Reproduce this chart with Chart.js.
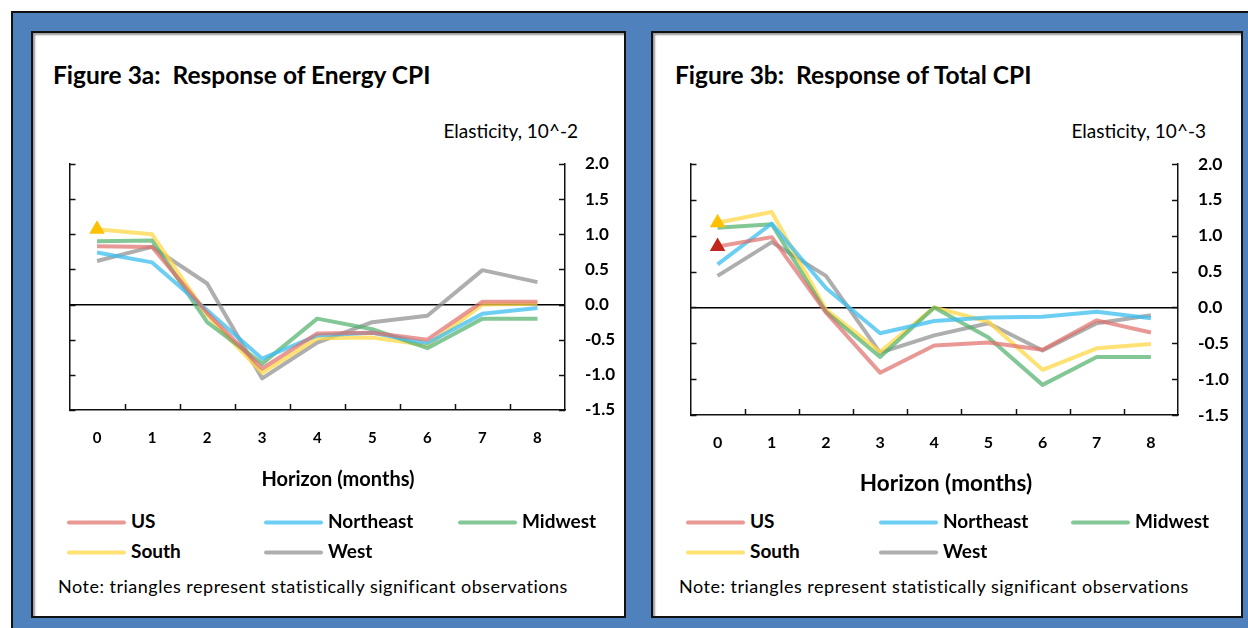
<!DOCTYPE html>
<html>
<head>
<meta charset="utf-8">
<script src="https://cdn.jsdelivr.net/npm/chart.js@4"></script>
<style>
  body { margin: 0; width: 1248px; height: 628px; overflow: hidden; background: #fff; position: relative; font-family: Lato, "Open Sans", sans-serif; color: #000; }
  #frame { position: absolute; left: 11px; top: 11px; width: 1250px; height: 630px; background: #4f81bd; border-left: 2px solid #111; border-top: 2px solid #111; }
  .panel { position: absolute; top: 31px; height: 587px; background: #fff; border: 2px solid #111; box-sizing: border-box; box-shadow: inset 2px 2px 2px #9a9a9a; }
  .abs { position: absolute; white-space: pre; line-height: 1; transform: translateY(-50%); }
  .title { font-weight: 700; font-size: 24.5px; }
  .unit { font-size: 19px; }
  .xtitle { font-weight: 700; transform: translate(-50%, -50%); }
  .item { font-weight: 700; font-size: 19px; }
  .swatch { display: inline-block; width: 59px; height: 4px; vertical-align: middle; margin-right: 5px; border-radius: 2px; }
  .note { font-size: 18px; letter-spacing: 0.5px; }
  canvas { position: absolute; }
</style>
</head>
<body>
<div id="frame"></div>
<div class="panel" style="left:31px; width:595px;"></div>
<div class="panel" style="left:651px; width:592px;"></div>

<div class="abs title" style="left:53px; top:75px;">Figure 3a:  Response of Energy CPI</div>
<div class="abs unit" style="right:670px; top:130px;">Elasticity, 10^-2</div>
<canvas id="energyChart" width="580" height="320" style="left:40px; top:150px;"></canvas>
<div class="abs xtitle" style="left:338px; top:478px; font-size:20px;">Horizon (months)</div>
<div id="energyLegend"></div>
<div class="abs note" style="left:58px; top:586px;">Note: triangles represent statistically significant observations</div>

<div class="abs title" style="left:675px; top:75px;">Figure 3b:  Response of Total CPI</div>
<div class="abs unit" style="right:42px; top:130px;">Elasticity, 10^-3</div>
<canvas id="totalChart" width="580" height="320" style="left:660px; top:150px;"></canvas>
<div class="abs xtitle" style="left:946px; top:483px; font-size:22.5px;">Horizon (months)</div>
<div id="totalLegend"></div>
<div class="abs note" style="left:679px; top:586px;">Note: triangles represent statistically significant observations</div>

<script>
const horizon = ["0", "1", "2", "3", "4", "5", "6", "7", "8"];
const regions = ["US", "Northeast", "Midwest", "South", "West"];
const lineColors = ["rgba(222,110,104,0.7)", "rgba(60,190,240,0.75)", "rgba(80,175,105,0.7)", "rgba(255,215,70,0.75)", "rgba(140,140,140,0.7)"];
const yMin = -1.5, yMax = 2.0, yStep = 0.5;

// Figure 3a: energy CPI, elasticity 10^-2
const energyUS        = [0.83, 0.82, -0.12, -0.91, -0.41, -0.40, -0.50,  0.04,  0.04];
const energyNortheast = [0.74, 0.60, -0.08, -0.77, -0.44, -0.40, -0.55, -0.13, -0.05];
const energyMidwest   = [0.90, 0.91, -0.25, -0.84, -0.20, -0.35, -0.62, -0.20, -0.20];
const energySouth     = [1.07, 1.00, -0.15, -0.97, -0.48, -0.47, -0.58,  0.00,  0.01];
const energyWest      = [0.62, 0.82,  0.30, -1.05, -0.54, -0.25, -0.16,  0.49,  0.32];
const energySig = { South: [0] };

// Figure 3b: total CPI, elasticity 10^-3
const totalUS        = [0.85, 0.98, -0.07, -0.91, -0.53, -0.49, -0.59, -0.18, -0.35];
const totalNortheast = [0.60, 1.17,  0.27, -0.36, -0.19, -0.14, -0.13, -0.06, -0.15];
const totalMidwest   = [1.11, 1.16, -0.06, -0.69,  0.00, -0.42, -1.08, -0.69, -0.69];
const totalSouth     = [1.18, 1.33, -0.03, -0.62,  0.00, -0.20, -0.87, -0.57, -0.51];
const totalWest      = [0.44, 0.91,  0.44, -0.63, -0.39, -0.22, -0.60, -0.22, -0.11];
const totalSig = { US: [0], South: [0] };

const sigColors = { US: "#c0261c", South: "#ffc000" };

Chart.defaults.font.family = "Lato, 'Open Sans', sans-serif";
Chart.defaults.color = "#000";

// small tick marks pointing into the plot, like the original
const innerTicks = {
    id: "innerTicks",
    afterDraw(chart) {
        const { ctx, chartArea: a, scales: { x, y } } = chart;
        ctx.save();
        ctx.strokeStyle = "#111";
        ctx.lineWidth = 1.5;
        ctx.beginPath();
        y.ticks.forEach(t => {
            const py = Math.round(y.getPixelForValue(t.value)) + 0.5;
            ctx.moveTo(a.left, py); ctx.lineTo(a.left + 6, py);
            ctx.moveTo(a.right, py); ctx.lineTo(a.right - 6, py);
        });
        for (let i = 1; i < x.ticks.length; i++) {
            const px = Math.round((x.getPixelForValue(i - 1) + x.getPixelForValue(i)) / 2) + 0.5;
            ctx.moveTo(px, a.bottom); ctx.lineTo(px, a.bottom - 6);
        }
        ctx.stroke();
        ctx.restore();
    }
};

function makeDatasets(series, sig) {
    const lines = regions.map((name, i) => ({
        label: name,
        data: series[i],
        borderColor: lineColors[i],
        borderWidth: 4,
        borderJoinStyle: "round",
        pointRadius: 0,
        tension: 0,
        fill: false
    }));
    const marks = Object.keys(sig).map(name => {
        const vals = series[regions.indexOf(name)];
        return {
            label: name + " significant",
            data: vals.map((v, i) => sig[name].includes(i) ? v : null),
            showLine: false,
            pointStyle: "triangle",
            pointRadius: 9,
            pointBorderWidth: 0,
            pointBackgroundColor: sigColors[name],
            order: -1
        };
    });
    return lines.concat(marks);
}

function makeChart(id, series, sig, opt) {
    new Chart(document.getElementById(id), {
        type: "line",
        data: { labels: horizon, datasets: makeDatasets(series, sig) },
        plugins: [innerTicks],
        options: {
            responsive: false,
            animation: false,
            devicePixelRatio: 1,
            layout: { padding: { left: opt.padLeft, top: 14, right: 0, bottom: 0 } },
            plugins: { legend: { display: false }, tooltip: { enabled: false } },
            scales: {
                x: {
                    offset: true,
                    grid: { display: false, drawTicks: false },
                    border: { display: true, color: "#111", width: 1.5 },
                    ticks: { font: { size: opt.xFont, weight: "bold" }, padding: opt.xPad },
                    afterFit: s => { s.height = opt.xHeight; s.paddingLeft = 0; s.paddingRight = 0; }
                },
                yl: {
                    position: "left",
                    min: yMin, max: yMax,
                    grid: { display: false, drawTicks: false },
                    border: { display: true, color: "#111", width: 1.5 },
                    ticks: { display: false },
                    afterFit: s => { s.width = 0; s.paddingTop = 0; s.paddingBottom = 0; }
                },
                y: {
                    position: "right",
                    min: yMin, max: yMax,
                    grid: {
                        drawTicks: false,
                        lineWidth: 1.5,
                        color: c => (c.tick && Math.abs(c.tick.value) < 1e-9) ? "#000" : "rgba(0,0,0,0)"
                    },
                    border: { display: true, color: "#111", width: 1.5 },
                    ticks: {
                        stepSize: yStep,
                        padding: 20,
                        font: { size: opt.yFont, weight: "bold" },
                        callback: v => v.toFixed(1)
                    },
                    afterFit: s => { s.width = opt.yWidth; s.paddingTop = 0; s.paddingBottom = 0; }
                }
            }
        }
    });
}

function makeLegend(id, columns) {
    const box = document.getElementById(id);
    const rows = [520, 550];
    regions.forEach((name, i) => {
        const el = document.createElement("div");
        el.className = "abs item";
        el.style.left = columns[i % 3] + "px";
        el.style.top = rows[Math.floor(i / 3)] + "px";
        el.innerHTML = `<span class="swatch" style="background:${lineColors[i]}"></span>${name}`;
        box.appendChild(el);
    });
}

makeChart("energyChart",
    [energyUS, energyNortheast, energyMidwest, energySouth, energyWest], energySig,
    { padLeft: 29.5, yWidth: 55, xHeight: 60, xFont: 15, xPad: 19, yFont: 17 });
makeChart("totalChart",
    [totalUS, totalNortheast, totalMidwest, totalSouth, totalWest], totalSig,
    { padLeft: 30.5, yWidth: 62, xHeight: 55, xFont: 16, xPad: 18, yFont: 17.5 });

makeLegend("energyLegend", [67, 264, 458]);
makeLegend("totalLegend", [686, 879, 1071]);
</script>
</body>
</html>
